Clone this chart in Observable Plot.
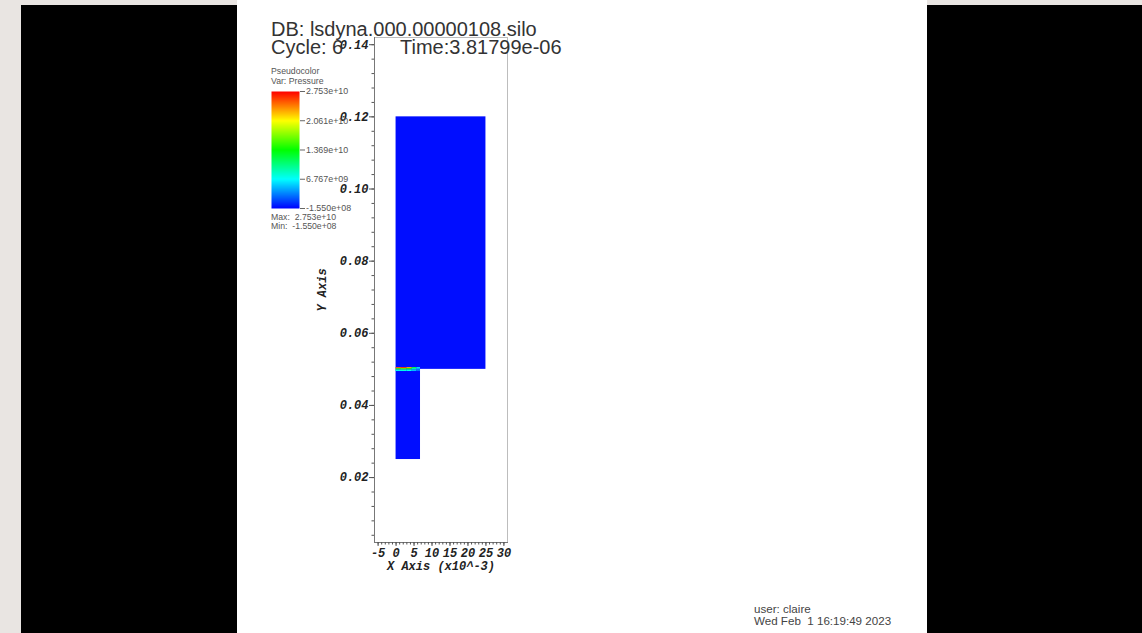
<!DOCTYPE html>
<html>
<head>
<meta charset="utf-8">
<script src="https://cdn.jsdelivr.net/npm/d3@7"></script>
<script src="https://cdn.jsdelivr.net/npm/@observablehq/plot@0.6"></script>
<style>
  html, body { margin: 0; padding: 0; }
  body { width: 1142px; height: 633px; background: #e9e5e2; position: relative; overflow: hidden;
         font-family: "Liberation Sans", Arial, sans-serif; }
  #black { position: absolute; left: 21px; top: 5px; width: 1121px; height: 628px; background: #000; }
  #panel { position: absolute; left: 237px; top: 0; width: 690px; height: 633px; background: #fff; overflow: hidden; }
  #main { position: absolute; left: 0; top: 0; }
  #legend { position: absolute; left: 34px; top: 86px; }
  .t { position: absolute; white-space: pre; line-height: 1; }
  .title { font-size: 20px; color: #333; }
  .small { font-size: 8.7px; color: #555; }
  .foot { font-size: 11.6px; color: #444; }
</style>
</head>
<body>
<div id="black"></div>
<div id="panel">
  <div id="main"></div>
  <div id="legend"></div>
</div>
<script>
// ---- text ----
const titleDB = "DB: lsdyna.000.00000108.silo";
const titleCycle = "Cycle: 6";
const titleTime = "Time:3.81799e-06";
const legendTitle = "Pseudocolor";
const legendVar = "Var: Pressure";
const legendMax = "Max:  2.753e+10";
const legendMin = "Min:  -1.550e+08";
const userText = "user: claire";
const dateText = "Wed Feb  1 16:19:49 2023";
const xAxisLabel = "X Axis (x10^-3)";
const yAxisLabel = "Y Axis";

// ---- colour bar ----
const pMin = -1.55e8, pMax = 2.753e10;
const legendTickValues = [2.753e10, 2.061e10, 1.369e10, 6.767e9, -1.55e8];
const legendTickLabels = ["2.753e+10", "2.061e+10", "1.369e+10", "6.767e+09", "-1.550e+08"];
const colorStops = ["#ff0000", "#ffff00", "#00ff00", "#00ffff", "#0000ff"]; // top -> bottom

// ---- regions (x in 1e-3, y) ----
const regionX1 = [0, 0];
const regionX2 = [25, 6.8];
const regionY1 = [0.05, 0.025];
const regionY2 = [0.12, 0.05];
const regionPressure = [2.0e8, 2.0e8];

// ---- shock front strip cells ----
const frontColX1 = [0, 1.5, 3, 4.5, 5.8];
const frontColX2 = [1.5, 3, 4.5, 5.8, 6.8];
const frontRowY1 = [0.0502, 0.0498, 0.0494];
const frontRowY2 = [0.0505, 0.0502, 0.0498];
const frontPressure = [
  [2.5e10, 2.6e10, 2.3e10, 1.2e10, 6.0e9],
  [1.5e10, 1.6e10, 1.45e10, 9.0e9, 5.0e9],
  [7.0e9, 7.5e9, 7.0e9, 5.0e9, 3.0e9]
];

// ---- axes ----
const xDomain = [-6, 31];
const yDomain = [0.002, 0.142];
const xMajorTicks = [-5, 0, 5, 10, 15, 20, 25, 30];
const xMinorTicks = d3.range(-5, 31, 1);
const yMajorTicks = [0.02, 0.04, 0.06, 0.08, 0.10, 0.12, 0.14];
const yMinorTicks = d3.range(0.004, 0.1421, 0.004);

// ---- build tables ----
const regions = regionX1.map((x1, i) => ({x1, x2: regionX2[i], y1: regionY1[i], y2: regionY2[i], p: regionPressure[i]}));
const front = [];
frontRowY1.forEach((y1, r) => frontColX1.forEach((x1, c) => front.push({
  x1, x2: frontColX2[c], y1, y2: frontRowY2[r], p: frontPressure[r][c]
})));

const colorScale = {
  type: "linear",
  domain: legendTickValues.slice().reverse(),
  range: colorStops.slice().reverse(),
  interpolate: "rgb"
};

const axisColor = "#555";

const main = Plot.plot({
  width: 690, height: 633,
  marginLeft: 137, marginRight: 420, marginTop: 37, marginBottom: 91,
  x: {domain: xDomain},
  y: {domain: yDomain},
  color: colorScale,
  style: {background: "transparent", fontFamily: "'Liberation Mono', 'DejaVu Sans Mono', monospace",
          fontSize: "12px", fontWeight: "bold", fontStyle: "italic", color: "#222"},
  marks: [
    Plot.frame({stroke: "#bdbdbd"}),
    Plot.rect(regions, {x1: "x1", x2: "x2", y1: "y1", y2: "y2", fill: "p"}),
    Plot.rect(front, {x1: "x1", x2: "x2", y1: "y1", y2: "y2", fill: "p"}),
    Plot.frame({anchor: "left", stroke: "#777"}),
    Plot.frame({anchor: "bottom", stroke: "#777"}),
    Plot.axisY({ticks: yMinorTicks, tickSize: 2.5, tickFormat: () => "", label: null, stroke: axisColor}),
    Plot.axisY({ticks: yMajorTicks, tickSize: 5, tickPadding: 1, tickFormat: d => d.toFixed(2),
                stroke: axisColor, label: yAxisLabel, labelAnchor: "center", labelOffset: 57, labelArrow: "none"}),
    Plot.axisX({ticks: xMinorTicks, tickSize: 2.5, tickFormat: () => "", label: null, stroke: axisColor}),
    Plot.axisX({ticks: xMajorTicks, tickSize: 4, tickPadding: 1.5, tickFormat: d => String(d),
                stroke: axisColor, label: xAxisLabel, labelAnchor: "center", labelOffset: 27, labelArrow: "none"})
  ]
});
document.getElementById("main").appendChild(main);

const legend = Plot.plot({
  width: 108, height: 127,
  marginLeft: 0, marginRight: 80, marginTop: 5, marginBottom: 5,
  x: {domain: [0, 1], axis: null},
  y: {domain: [pMin, pMax]},
  color: colorScale,
  style: {background: "transparent", fontFamily: "'Liberation Sans', Arial, sans-serif", fontSize: "8.9px", color: "#555"},
  marks: [
    Plot.raster({x1: 0, x2: 1, y1: pMin, y2: pMax, fill: (x, y) => y, pixelSize: 1}),
    Plot.axisY({anchor: "right", ticks: legendTickValues,
                tickFormat: d => legendTickLabels[legendTickValues.indexOf(d)],
                tickSize: 5, tickPadding: 1.5, label: null, stroke: "#666"})
  ]
});
document.getElementById("legend").appendChild(legend);

// ---- annotation texts (panel coordinates) ----
const panel = document.getElementById("panel");
function addText(txt, cls, left, top) {
  const d = document.createElement("div");
  d.className = "t " + cls;
  d.textContent = txt;
  d.style.left = left + "px";
  d.style.top = top + "px";
  panel.appendChild(d);
}
addText(titleDB, "title", 34, 19);
addText(titleCycle, "title", 34, 37);
addText(titleTime, "title", 163, 37);
addText(legendTitle, "small", 34, 66.5);
addText(legendVar, "small", 34, 77);
addText(legendMax, "small", 34, 212.5);
addText(legendMin, "small", 34, 222);
addText(userText, "foot", 517, 603);
addText(dateText, "foot", 517, 615);
</script>
</body>
</html>
